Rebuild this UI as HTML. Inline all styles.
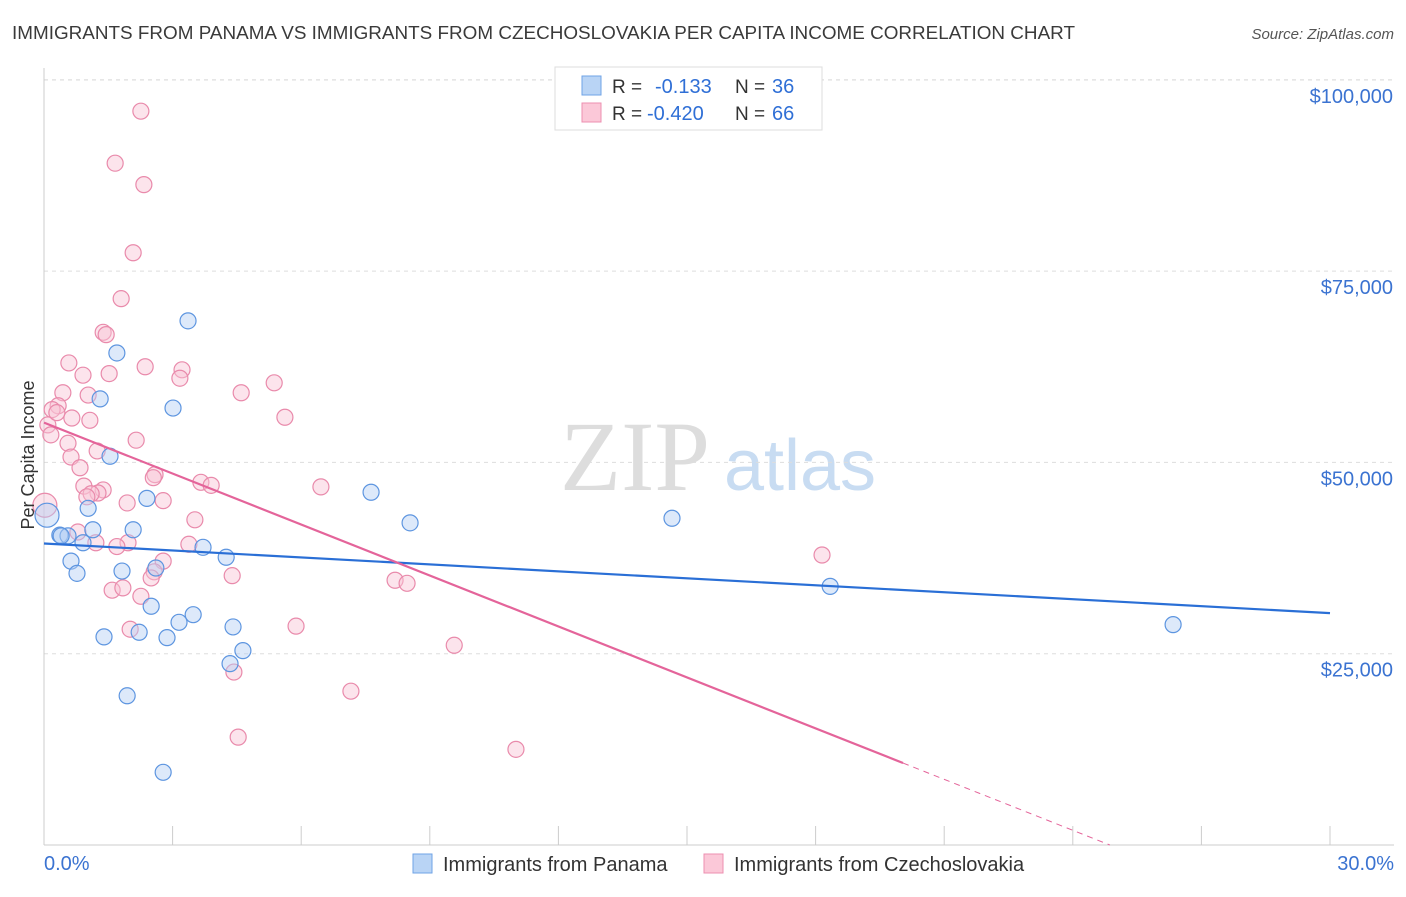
<!DOCTYPE html>
<html><head><meta charset="utf-8"><style>
body{margin:0;background:#fff;font-family:"Liberation Sans",sans-serif}
svg text{font-family:"Liberation Sans",sans-serif}
</style></head><body>
<svg id="c" width="1406" height="892" xmlns="http://www.w3.org/2000/svg">
<text x="12" y="39" font-size="18" fill="#3a3a3a" textLength="1063" lengthAdjust="spacingAndGlyphs">IMMIGRANTS FROM PANAMA VS IMMIGRANTS FROM CZECHOSLOVAKIA PER CAPITA INCOME CORRELATION CHART</text>
<text x="1394" y="39" font-size="15" fill="#555" text-anchor="end" font-style="italic">Source: ZipAtlas.com</text>
<g><text x="635" y="490" font-size="100" fill="#ddd" text-anchor="middle" style="font-family:'Liberation Serif',serif">ZIP</text><text x="800" y="490" font-size="72" fill="#c8dcf2" text-anchor="middle">atlas</text></g>
<g id="grid"></g><g id="axes"></g><g id="pts"></g><g id="lines"></g>
<text transform="translate(34,455) rotate(-90)" font-size="18" fill="#333" text-anchor="middle">Per Capita Income</text>
<g>
<rect x="555" y="67" width="267" height="63" fill="#fff" stroke="#ddd"/>
<rect x="582" y="76" width="19" height="19" fill="#b9d4f5" stroke="#6fa3e6"/>
<rect x="582" y="103" width="19" height="19" fill="#fbc8d8" stroke="#ec8fb0"/>
<text x="612" y="93" font-size="19" fill="#333">R =</text>
<text x="655" y="93" font-size="20" fill="#2f6fd6">-0.133</text>
<text x="735" y="93" font-size="19" fill="#333">N =</text>
<text x="772" y="93" font-size="20" fill="#2f6fd6">36</text>
<text x="612" y="120" font-size="19" fill="#333">R =</text>
<text x="647" y="120" font-size="20" fill="#2f6fd6">-0.420</text>
<text x="735" y="120" font-size="19" fill="#333">N =</text>
<text x="772" y="120" font-size="20" fill="#2f6fd6">66</text>
</g>
<g>
<rect x="413" y="854" width="19" height="19" fill="#b9d4f5" stroke="#6fa3e6"/>
<text x="443" y="871" font-size="20" fill="#333">Immigrants from Panama</text>
<rect x="704" y="854" width="19" height="19" fill="#fbc8d8" stroke="#ec8fb0"/>
<text x="734" y="871" font-size="20" fill="#333">Immigrants from Czechoslovakia</text>
</g>
</svg>
<script>
const yTicks=[25000,50000,75000,100000];
const yTickLabels=["$25,000","$50,000","$75,000","$100,000"];
const xTickLabels=["0.0%","30.0%"];
const blueX=[0.07,3.36,1.70,1.31,3.01,1.54,2.40,7.63,8.54,14.65,1.03,1.14,2.08,0.37,0.56,0.91,3.71,4.25,0.63,0.77,1.82,2.61,2.50,3.48,3.15,4.41,1.40,2.22,2.87,4.64,4.34,1.94,2.78,18.34,26.34,0.4];
const blueY=[43.1,68.5,64.3,58.3,57.1,50.8,45.3,46.1,42.1,42.7,44.0,41.2,41.2,40.5,40.4,39.5,38.9,37.6,37.1,35.5,35.8,36.2,31.2,30.1,29.1,28.5,27.2,27.8,27.1,25.4,23.7,19.5,9.5,33.8,28.8,40.4];
const pinkX=[2.26,1.66,2.33,2.08,1.80,1.38,1.45,0.58,2.36,3.22,3.17,0.91,1.52,5.37,4.60,0.44,1.03,0.33,0.19,0.09,0.65,1.07,5.62,0.16,2.15,0.56,1.24,0.63,0.84,2.59,3.66,6.46,0.93,1.38,1.26,1.10,2.78,1.94,3.52,0.79,1.21,1.96,3.38,2.78,2.57,2.50,4.39,8.19,8.47,1.59,1.84,2.26,18.15,5.88,2.01,4.43,9.57,7.16,4.53,11.01,0.02,2.55,0.3,1.0,3.9,1.7];
const pinkY=[95.9,89.1,86.3,77.4,71.4,67.0,66.7,63.0,62.5,62.1,61.0,61.4,61.6,60.4,59.1,59.1,58.8,57.4,56.9,54.9,55.8,55.5,55.9,53.6,52.9,52.5,51.5,50.7,49.3,48.4,47.4,46.8,46.9,46.4,46.0,45.9,45.0,44.7,42.5,40.9,39.5,39.5,39.3,37.1,35.7,34.9,35.2,34.6,34.2,33.3,33.6,32.5,37.9,28.6,28.2,22.6,26.1,20.1,14.1,12.5,44.4,48.0,56.5,45.5,47.0,39.0];
const blueTrend=[39.4,30.3];
const pinkTrend=[55.2,-2.22];
const NS="http://www.w3.org/2000/svg";
const X=v=>44+v/30*1286, Y=v=>845-v/25000*191.3;
function mk(t,a,p){const e=document.createElementNS(NS,t);for(const k in a)e.setAttribute(k,a[k]);p.appendChild(e);return e;}
const gridG=document.getElementById('grid'),axG=document.getElementById('axes'),ptsG=document.getElementById('pts'),lnG=document.getElementById('lines');
yTicks.forEach((t,i)=>{
 const l=mk('line',{x1:44,x2:1394,y1:Y(t),y2:Y(t),stroke:'#ddd','stroke-dasharray':'4,4'},gridG);
 
 
 const tx=mk('text',{x:1393,y:Y(t)+23,'font-size':20,fill:'#3b73d1','text-anchor':'end'},gridG);
 tx.textContent=yTickLabels[i];
 
 
});
const topGrid=mk('line',{x1:44,x2:1394,y1:80,y2:80,stroke:'#ddd','stroke-dasharray':'4,4'},gridG);


const yl=mk('line',{x1:44,x2:44,y1:68,y2:845,stroke:'#ccc'},axG);


const xl=mk('line',{x1:44,x2:1394,y1:845,y2:845,stroke:'#ccc'},axG);


for(let i=0;i<=10;i++){const t=mk('line',{x1:X(i*3),x2:X(i*3),y1:826,y2:845,stroke:'#ccc'},axG);
 
 }
[[0,'start',44],[30,'end',1394]].forEach((d,i)=>{const t=mk('text',{x:d[2],y:870,'font-size':20,fill:'#3b73d1','text-anchor':d[1]},axG);t.textContent=xTickLabels[i];
 
 });
function dots(xs,ys,fill,stroke,name){xs.forEach((x,i)=>{const big=(i===0&&name==='blue-point')||(i===60&&name==='pink-point');
 const c=mk('circle',{cx:X(x),cy:Y(ys[i]*1000),r:big?12:8,fill:fill,'fill-opacity':0.45,stroke:stroke,'stroke-width':1.2},ptsG);
 
 });}
dots(pinkX,pinkY,'#f9c3d4','#e98aab','pink-point');
dots(blueX,blueY,'#b3cff3','#5d95e0','blue-point');
const bl=mk('line',{x1:X(0),y1:Y(blueTrend[0]*1000),x2:X(30),y2:Y(blueTrend[1]*1000),stroke:'#2a6fd6','stroke-width':2.2},lnG);


const pe=20.04, pz=-pinkTrend[0]/pinkTrend[1];
const pl=mk('line',{x1:X(0),y1:Y(pinkTrend[0]*1000),x2:X(pe),y2:Y((pinkTrend[0]+pinkTrend[1]*pe)*1000),stroke:'#e4649a','stroke-width':2.2},lnG);


const pd=mk('line',{x1:X(pe),y1:Y((pinkTrend[0]+pinkTrend[1]*pe)*1000),x2:X(pz),y2:Y(0),stroke:'#e4649a','stroke-width':1,'stroke-dasharray':'6,5'},lnG);


</script>
</body></html>
